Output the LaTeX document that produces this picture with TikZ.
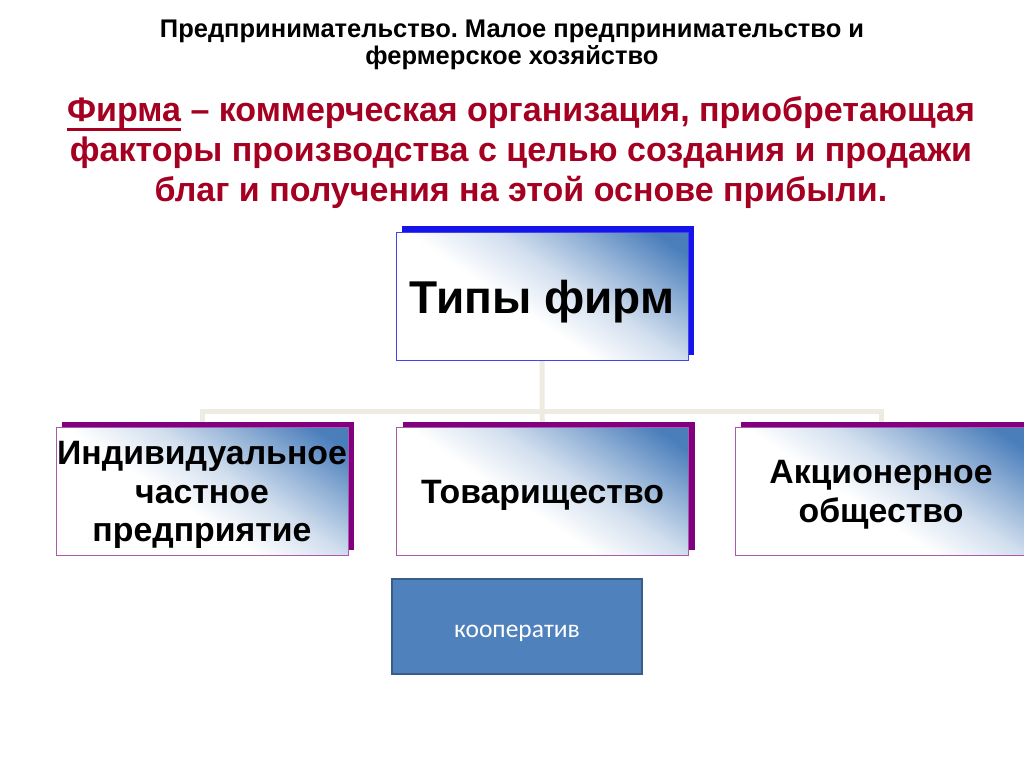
\documentclass[tikz,border=0pt]{standalone}
\usepackage{fontspec}
\setmainfont{Liberation Sans}
\newfontfamily\calfont{Carlito}
\usetikzlibrary{shadows,backgrounds}
\frenchspacing
\definecolor{firmred}{RGB}{165,0,33}
\definecolor{fadeblue}{RGB}{74,126,187}
\definecolor{linkgrey}{RGB}{238,236,225}
\definecolor{shadeblue}{RGB}{20,20,235}
\definecolor{shadepurple}{RGB}{128,0,128}
\definecolor{edgepurple}{RGB}{170,90,170}
\definecolor{coopblue}{RGB}{79,129,189}
\definecolor{coopedge}{RGB}{56,93,138}
\pgfdeclarehorizontalshading{boxfade}{100bp}{color(0bp)=(white); color(44bp)=(white); color(57bp)=(fadeblue!25!white); color(68bp)=(fadeblue!60!white); color(80bp)=(fadeblue); color(100bp)=(fadeblue)}
\newcommand{\undr}[1]{\setbox0\hbox{#1}\rlap{\rule[-0.27em]{\wd0}{0.08em}}\box0\relax}

\begin{document}
\begin{tikzpicture}[x=1pt, y=-1pt, every node/.style={inner sep=0pt, align=center},
	firmbox/.style={minimum width=292pt, minimum height=128pt, text depth=0pt, shading=boxfade, shading angle=56, font=\fontsize{33.8}{38.5}\selectfont\bfseries},
	mainbox/.style={firmbox, draw=shadeblue!80!white, general shadow={fill=shadeblue, shadow xshift=6pt, shadow yshift=6pt}, font=\fontsize{46}{52}\selectfont\bfseries},
	kindbox/.style={firmbox, draw=edgepurple, general shadow={fill=shadepurple, shadow xshift=6pt, shadow yshift=6pt}},
	coopbox/.style={draw=coopedge, line width=2pt, fill=coopblue, minimum width=250pt, minimum height=95pt, text height=21pt, text depth=0pt, text=white, font=\calfont\fontsize{25.5}{28}\selectfont},
	link/.style={draw=linkgrey, line width=5pt}]
			\useasboundingbox (0,0) rectangle (1024,767);
			
			\node[font=\fontsize{25.5}{27}\selectfont\bfseries] (title) at (512,44.5){Предпринимательство. Малое предпринимательство и\\фермерское хозяйство};
			\node[text=firmred, font=\fontsize{34}{40}\selectfont\bfseries] (definition) at (521,153){\undr{Фирма} -- коммерческая организация, приобретающая\\факторы производства с целью создания и продажи\\благ и получения на этой основе прибыли.};
			
			\node[mainbox] (types) at (542,296.5){Типы фирм};
			\node[kindbox] (indiv) at (202,491.5){Индивидуальное\\частное\\предприятие};
			\node[kindbox] (partner) at (542.5,491.5){Товарищество};
			\node[kindbox] (stock) at (881,491.5){Акционерное\\общество};
			\node[coopbox] (coop) at (517,626.5){кооператив};
			
			\begin{scope}[on background layer]
			\fill[white] (0,0) rectangle (1024,767);
			\path[link] (types.south) -- ++(0,51) coordinate (fork) -- (partner.north);
			\path[link] (indiv.north) |- (fork) -| (stock.north);
			\end{scope}
			\end{tikzpicture}
\end{document}
